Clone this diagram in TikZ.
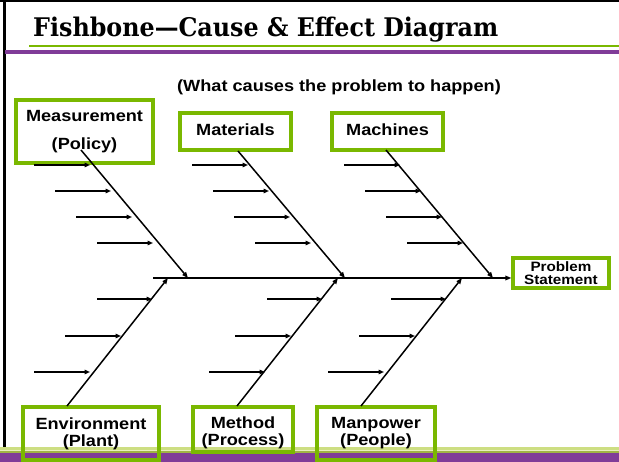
\documentclass[tikz,border=0pt]{standalone}
\usepackage{fontspec}
\usepackage{graphicx}
\usetikzlibrary{arrows.meta}
\setmainfont{Liberation Serif}
\newfontfamily\titlefont{DejaVu Serif}
\newfontfamily\lab[FakeStretch=1.12]{Liberation Sans}
\definecolor{boxgreen}{RGB}{122,184,0}
\definecolor{bandpurple}{RGB}{128,60,152}
\definecolor{bandlight}{RGB}{205,222,130}
\definecolor{bandpale}{RGB}{232,238,190}
\definecolor{bandolive}{RGB}{160,180,70}
\tikzset{
  catbox/.style={draw=boxgreen, line width=3.2pt, inner sep=0pt, align=center,
    font=\lab\bfseries\fontsize{16.2}{17}\selectfont},
  bone/.style={line width=1.5pt, -{Triangle[length=6pt,width=4.5pt]}},
  rib/.style={line width=1.5pt, -{Triangle[length=5.5pt,width=4.5pt]}},
  spine/.style={line width=1.8pt, -{Triangle[length=6pt,width=4.5pt]}}
}
\begin{document}
\begin{tikzpicture}[x=1pt,y=-1pt]
\useasboundingbox (0,0) rectangle (619,462);
\fill[white] (0,0) rectangle (619,462);

% slide frame and title rules
\fill[black] (0,0) rectangle (619,2);
\fill[black] (3,0) rectangle (6,450);
\fill[boxgreen] (29,45) rectangle (619,47.3);
\fill[bandpurple] (5,50.5) rectangle (619,53.8);
\node[anchor=base west, inner sep=0pt] (title) at (33,37)
  {\resizebox{465pt}{19.5pt}{\titlefont\bfseries Fishbone\textemdash Cause \& Effect Diagram}};

% footer band
\fill[bandlight] (0,447.5) rectangle (619,450);
\fill[bandpale] (0,450) rectangle (619,451.5);
\fill[bandolive] (0,451.5) rectangle (619,453.5);
\fill[bandpurple] (0,453.5) rectangle (619,462);

\node[font=\lab\bfseries\fontsize{16.2}{18}\selectfont] (sub) at (339,87)
  {(What causes the problem to happen)};

% category boxes
\node[catbox, minimum width=137pt, minimum height=63pt,
  font=\lab\bfseries\fontsize{16.2}{28}\selectfont] (meas) at (84.5,131.5)
  {Measurement\\(Policy)};
\node[catbox, minimum width=111pt, minimum height=37pt] (mat) at (235.5,131.5) {\raisebox{4pt}{Materials}};
\node[catbox, minimum width=111pt, minimum height=37pt] (mach) at (387.5,131.5) {\raisebox{4pt}{Machines}};
\node[catbox, minimum width=136pt, minimum height=53pt] (env) at (91,433.5) {Environment\\(Plant)};
\node[catbox, minimum width=100pt, minimum height=45pt] (meth) at (243,429.5) {\rule{0pt}{18pt}Method\\(Process)};
\node[catbox, minimum width=118pt, minimum height=53pt] (man) at (376,433.5) {Manpower\\(People)};
\node[catbox, minimum width=96pt, minimum height=30pt,
  font=\lab\bfseries\fontsize{13.6}{12.8}\selectfont] (prob) at (561,273) {Problem\\Statement};

% bone end points
\coordinate (tail) at (153,278);
\coordinate (measS) at (81,150);
\coordinate (measE) at (188,278);
\coordinate (matS) at (238,151);
\coordinate (matE) at (345,278);
\coordinate (machS) at (386,150);
\coordinate (machE) at (493,278);
\coordinate (envS) at (67,406);
\coordinate (envE) at (168,278);
\coordinate (methS) at (237,406);
\coordinate (methE) at (338,278);
\coordinate (manS) at (361,406);
\coordinate (manE) at (462,278);

% spine
\draw[spine] (tail) -- (tail -| prob.west);

% main bones
\draw[bone] (measS) -- (measE);
\draw[bone] (matS) -- (matE);
\draw[bone] (machS) -- (machE);
\draw[bone] (envS) -- (envE);
\draw[bone] (methS) -- (methE);
\draw[bone] (manS) -- (manE);

% ribs on the upper bones
\foreach \ox in {0,158,310}{
  \draw[rib] (34+\ox,165) -- (90+\ox,165);
  \draw[rib] (55+\ox,191) -- (111+\ox,191);
  \draw[rib] (76+\ox,217) -- (132+\ox,217);
  \draw[rib] (97+\ox,243) -- (153+\ox,243);
}

% ribs on the lower bones
\foreach \ox in {0,170,294}{
  \draw[rib] (97+\ox,299) -- (152+\ox,299);
  \draw[rib] (65+\ox,336) -- (121+\ox,336);
}
\draw[rib] (34,372) -- (90,372);
\draw[rib] (209,372) -- (265,372);
\draw[rib] (328,372) -- (384,372);
\end{tikzpicture}
\end{document}
